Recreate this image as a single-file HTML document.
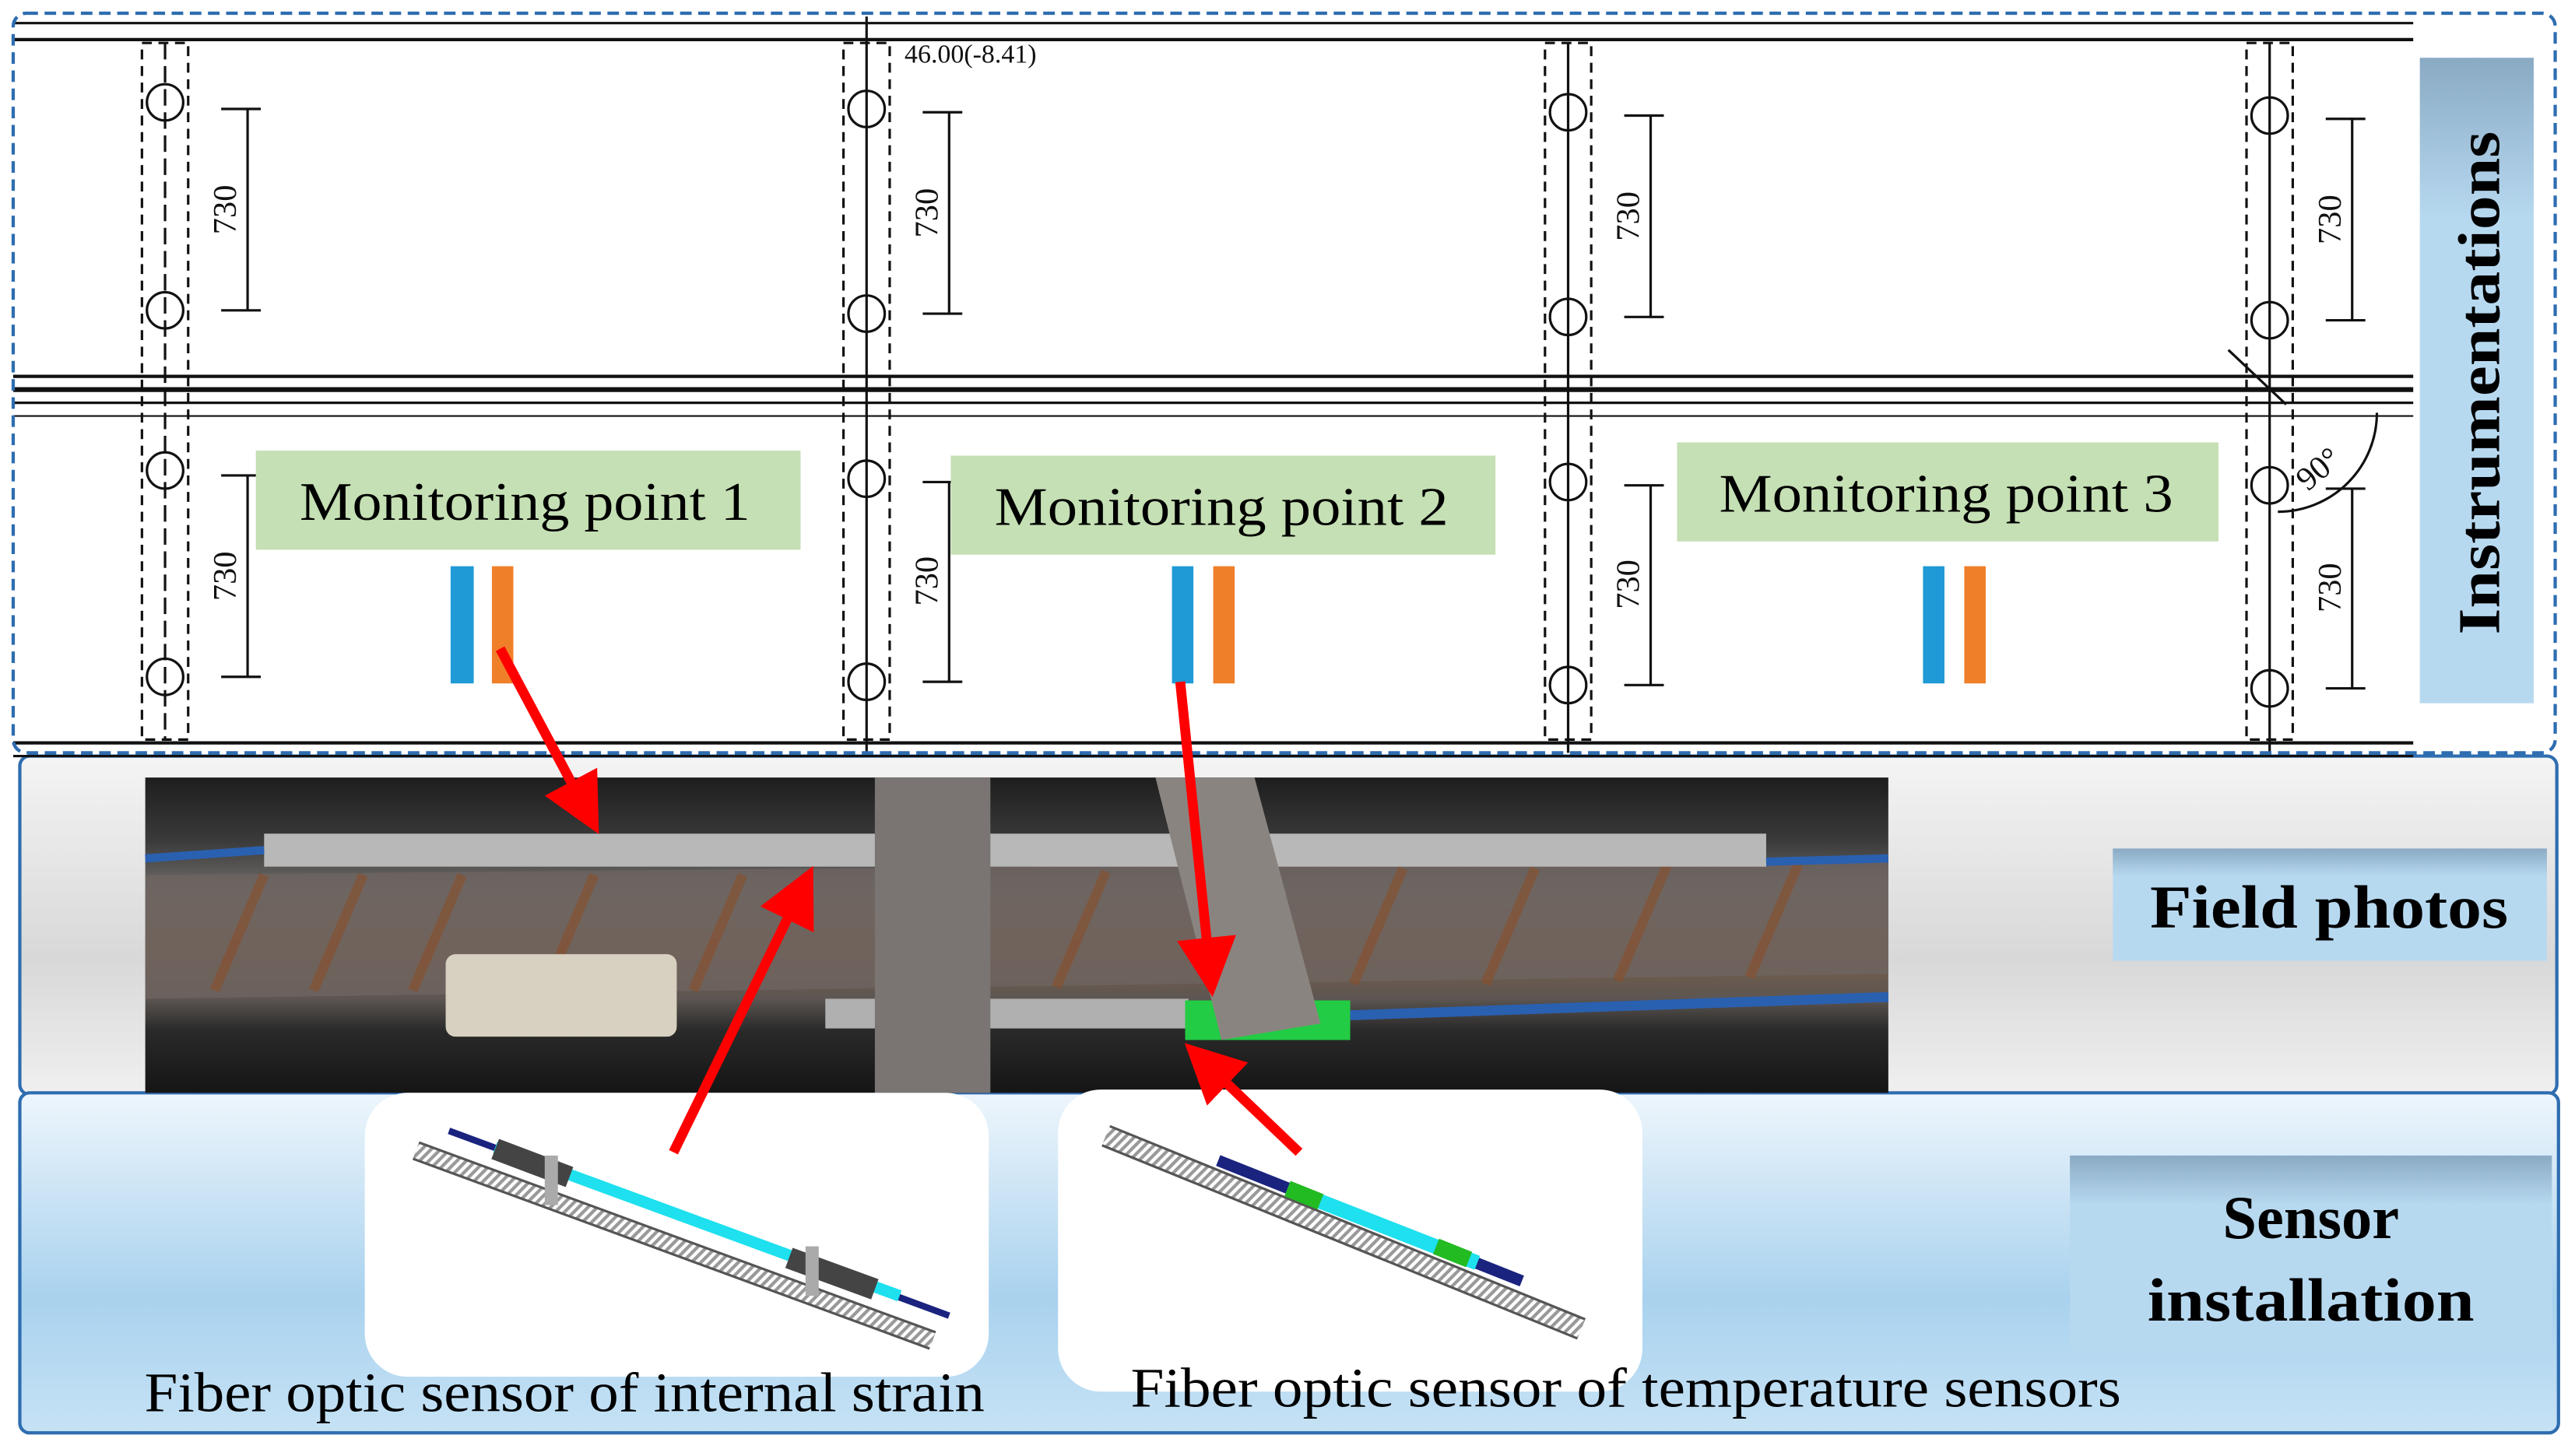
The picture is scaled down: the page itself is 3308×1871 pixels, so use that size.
<!DOCTYPE html>
<html><head><meta charset="utf-8"><style>html,body{margin:0;padding:0;background:#fff}svg{display:block}</style></head><body>
<svg width="3308" height="1871" viewBox="0 0 1560 882" preserveAspectRatio="none" xmlns="http://www.w3.org/2000/svg" font-family="Liberation Serif, serif">
<defs>
<linearGradient id="fp" x1="0" y1="0" x2="0" y2="1"><stop offset="0" stop-color="#f4f4f4"/><stop offset="0.6" stop-color="#d8d8d8"/><stop offset="1" stop-color="#f0f0f0"/></linearGradient>
<linearGradient id="si" x1="0" y1="0" x2="0" y2="1"><stop offset="0" stop-color="#eef6fc"/><stop offset="0.6" stop-color="#a9d2ee"/><stop offset="1" stop-color="#c6e2f5"/></linearGradient>
<linearGradient id="lb" x1="0" y1="0" x2="0" y2="1"><stop offset="0" stop-color="#8aaac4"/><stop offset="0.25" stop-color="#b7d9f0"/><stop offset="1" stop-color="#b7d9f0"/></linearGradient>
<linearGradient id="photo" x1="0" y1="0" x2="0" y2="1"><stop offset="0" stop-color="#1e1e1e"/><stop offset="0.2" stop-color="#3a3a3a"/><stop offset="0.35" stop-color="#6c6a68"/><stop offset="0.55" stop-color="#7b5f48"/><stop offset="0.7" stop-color="#5d5652"/><stop offset="0.8" stop-color="#2a2a2a"/><stop offset="1" stop-color="#151515"/></linearGradient>
<pattern id="hatch" width="4" height="4" patternUnits="userSpaceOnUse" patternTransform="rotate(45)"><rect width="4" height="4" fill="#fff"/><rect width="2" height="4" fill="#999"/></pattern>
<marker id="ah" markerWidth="6" markerHeight="6" refX="5" refY="3" orient="auto" markerUnits="strokeWidth"><path d="M0,0 L6,3 L0,6 z" fill="#ff0000"/></marker>
</defs>
<rect x="12" y="458" width="1537" height="205" rx="6" fill="url(#fp)" stroke="#2e6db0" stroke-width="2"/>
<rect x="12" y="662" width="1538" height="206" rx="6" fill="url(#si)" stroke="#2e6db0" stroke-width="2"/>
<rect x="8" y="8" width="1540" height="448" fill="#fff"/>
<g stroke="#111" fill="none">
<line x1="8" y1="14" x2="1462" y2="14" stroke-width="1.5"/>
<line x1="8" y1="24" x2="1462" y2="24" stroke-width="2"/>
<line x1="8" y1="228" x2="1462" y2="228" stroke-width="2"/>
<line x1="8" y1="236" x2="1462" y2="236" stroke-width="3"/>
<line x1="8" y1="244" x2="1462" y2="244" stroke-width="1.5"/>
<line x1="8" y1="252" x2="1462" y2="252" stroke-width="1"/>
<line x1="8" y1="450" x2="1462" y2="450" stroke-width="2"/>
<line x1="8" y1="458" x2="1462" y2="458" stroke-width="1.5"/>
</g>
<g stroke="#111" fill="none" stroke-width="1.5">
<g transform="translate(100,0)"><rect x="-14" y="26" width="28" height="422" stroke-dasharray="6,4"/><line x1="0" y1="26" x2="0" y2="448" stroke-dasharray="10,4"/><circle cx="0" cy="62" r="11"/><circle cx="0" cy="188" r="11"/><circle cx="0" cy="285" r="11"/><circle cx="0" cy="410" r="11"/><line x1="34" y1="66" x2="58" y2="66"/><line x1="34" y1="188" x2="58" y2="188"/><line x1="50" y1="66" x2="50" y2="188"/><line x1="34" y1="288" x2="58" y2="288"/><line x1="34" y1="410" x2="58" y2="410"/><line x1="50" y1="288" x2="50" y2="410"/></g>
<g transform="translate(525,0)"><rect x="-14" y="26" width="28" height="422" stroke-dasharray="6,4"/><line x1="0" y1="10" x2="0" y2="456"/><circle cx="0" cy="66" r="11"/><circle cx="0" cy="190" r="11"/><circle cx="0" cy="290" r="11"/><circle cx="0" cy="413" r="11"/><line x1="34" y1="68" x2="58" y2="68"/><line x1="34" y1="190" x2="58" y2="190"/><line x1="50" y1="68" x2="50" y2="190"/><line x1="34" y1="292" x2="58" y2="292"/><line x1="34" y1="413" x2="58" y2="413"/><line x1="50" y1="292" x2="50" y2="413"/></g>
<g transform="translate(950,0)"><rect x="-14" y="26" width="28" height="422" stroke-dasharray="6,4"/><line x1="0" y1="26" x2="0" y2="456"/><circle cx="0" cy="68" r="11"/><circle cx="0" cy="192" r="11"/><circle cx="0" cy="292" r="11"/><circle cx="0" cy="415" r="11"/><line x1="34" y1="70" x2="58" y2="70"/><line x1="34" y1="192" x2="58" y2="192"/><line x1="50" y1="70" x2="50" y2="192"/><line x1="34" y1="294" x2="58" y2="294"/><line x1="34" y1="415" x2="58" y2="415"/><line x1="50" y1="294" x2="50" y2="415"/></g>
<g transform="translate(1375,0)"><rect x="-14" y="26" width="28" height="422" stroke-dasharray="6,4"/><line x1="0" y1="26" x2="0" y2="456"/><circle cx="0" cy="70" r="11"/><circle cx="0" cy="194" r="11"/><circle cx="0" cy="294" r="11"/><circle cx="0" cy="417" r="11"/><line x1="34" y1="72" x2="58" y2="72"/><line x1="34" y1="194" x2="58" y2="194"/><line x1="50" y1="72" x2="50" y2="194"/><line x1="34" y1="296" x2="58" y2="296"/><line x1="34" y1="417" x2="58" y2="417"/><line x1="50" y1="296" x2="50" y2="417"/><path d="M5,310 A60,60 0 0 0 65,250"/><line x1="-25" y1="212" x2="10" y2="245"/></g>
</g>
<g font-size="20" fill="#111">
<text transform="translate(143,127) rotate(-90)" text-anchor="middle">730</text>
<text transform="translate(143,349) rotate(-90)" text-anchor="middle">730</text>
<text transform="translate(568,129) rotate(-90)" text-anchor="middle">730</text>
<text transform="translate(568,352) rotate(-90)" text-anchor="middle">730</text>
<text transform="translate(993,131) rotate(-90)" text-anchor="middle">730</text>
<text transform="translate(993,354) rotate(-90)" text-anchor="middle">730</text>
<text transform="translate(1418,133) rotate(-90)" text-anchor="middle">730</text>
<text transform="translate(1418,356) rotate(-90)" text-anchor="middle">730</text>
<text transform="translate(1398,298) rotate(-40)">90°</text>
<text x="548" y="38" font-size="16">46.00(-8.41)</text>
</g>
<rect x="8" y="8" width="1540" height="448" rx="8" fill="none" stroke="#2e6db0" stroke-width="2" stroke-dasharray="7,4"/>
<rect x="1466" y="35" width="69" height="391" fill="url(#lb)"/>
<text transform="translate(1514,232) rotate(-90)" text-anchor="middle" font-size="36" font-weight="bold" fill="#000" textLength="305" lengthAdjust="spacingAndGlyphs">Instrumentations</text>
<rect x="155" y="273" width="330" height="60" fill="#c5e0b4"/>
<text x="318" y="315" text-anchor="middle" font-size="33" textLength="273" lengthAdjust="spacingAndGlyphs">Monitoring point 1</text>
<rect x="576" y="276" width="330" height="60" fill="#c5e0b4"/>
<text x="740" y="318" text-anchor="middle" font-size="33" textLength="275" lengthAdjust="spacingAndGlyphs">Monitoring point 2</text>
<rect x="1016" y="268" width="328" height="60" fill="#c5e0b4"/>
<text x="1179" y="310" text-anchor="middle" font-size="33" textLength="275" lengthAdjust="spacingAndGlyphs">Monitoring point 3</text>
<rect x="273" y="343" width="14" height="71" fill="#1f9ad6"/><rect x="298" y="343" width="13" height="71" fill="#f07f2a"/>
<rect x="710" y="343" width="13" height="71" fill="#1f9ad6"/><rect x="735" y="343" width="13" height="71" fill="#f07f2a"/>
<rect x="1165" y="343" width="13" height="71" fill="#1f9ad6"/><rect x="1190" y="343" width="13" height="71" fill="#f07f2a"/>
<rect x="88" y="471" width="1056" height="191" fill="url(#photo)"/>
<path d="M88,530 L1144,520 L1144,590 L88,605 z" fill="#6e6460" opacity="0.8"/>
<g stroke="#8a4f2a" stroke-width="6" opacity="0.6">
<line x1="130" y1="600" x2="160" y2="530"/><line x1="190" y1="600" x2="220" y2="530"/><line x1="250" y1="600" x2="280" y2="530"/><line x1="330" y1="600" x2="360" y2="530"/><line x1="420" y1="600" x2="450" y2="530"/><line x1="640" y1="598" x2="670" y2="528"/><line x1="820" y1="596" x2="850" y2="526"/><line x1="900" y1="596" x2="930" y2="526"/><line x1="980" y1="594" x2="1010" y2="524"/><line x1="1060" y1="592" x2="1090" y2="522"/>
</g>
<rect x="160" y="505" width="910" height="20" fill="#b8b8b8"/>
<path d="M88,520 L160,515 M1070,522 L1144,520" stroke="#2a60b0" stroke-width="5"/>
<rect x="500" y="605" width="220" height="18" fill="#b0b0b0"/>
<rect x="718" y="606" width="100" height="24" fill="#22cc44"/>
<path d="M818,615 L1144,604" stroke="#2a60b0" stroke-width="6"/>
<rect x="530" y="471" width="70" height="191" fill="#7a7472"/>
<path d="M700,471 L760,471 L800,620 L740,630 z" fill="#8a8480"/>
<rect x="270" y="578" width="140" height="50" rx="6" fill="#d8d0c0"/>
<rect x="221" y="662" width="378" height="172" rx="26" fill="#fff"/>
<rect x="641" y="660" width="354" height="183" rx="26" fill="#fff"/>
<line x1="252" y1="697" x2="565" y2="812" stroke="#555" stroke-width="12"/>
<line x1="252" y1="697" x2="565" y2="812" stroke="url(#hatch)" stroke-width="9"/>
<line x1="272" y1="685" x2="575" y2="797" stroke="#1a237e" stroke-width="4"/>
<line x1="300" y1="695" x2="545" y2="785" stroke="#1ee0ee" stroke-width="7"/>
<line x1="300" y1="696" x2="345" y2="713" stroke="#444" stroke-width="13"/>
<line x1="478" y1="762" x2="530" y2="781" stroke="#444" stroke-width="13"/>
<rect x="330" y="700" width="8" height="30" fill="#aaa"/><rect x="488" y="755" width="8" height="30" fill="#aaa"/>
<line x1="670" y1="688" x2="958" y2="805" stroke="#555" stroke-width="14"/>
<line x1="670" y1="688" x2="958" y2="805" stroke="url(#hatch)" stroke-width="11"/>
<line x1="738" y1="703" x2="922" y2="776" stroke="#1a237e" stroke-width="7"/>
<line x1="780" y1="720" x2="895" y2="765" stroke="#1ee0ee" stroke-width="9"/>
<line x1="780" y1="720" x2="800" y2="728" stroke="#22bb22" stroke-width="10"/>
<line x1="870" y1="755" x2="890" y2="763" stroke="#22bb22" stroke-width="10"/>
<rect x="1280" y="514" width="263" height="68" fill="url(#lb)"/>
<text x="1411" y="562" text-anchor="middle" font-size="37" font-weight="bold" textLength="217" lengthAdjust="spacingAndGlyphs">Field photos</text>
<rect x="1254" y="700" width="292" height="120" fill="url(#lb)"/>
<text x="1400" y="750" text-anchor="middle" font-size="37" font-weight="bold">Sensor</text>
<text x="1400" y="800" text-anchor="middle" font-size="37" font-weight="bold" textLength="198" lengthAdjust="spacingAndGlyphs">installation</text>
<text x="342" y="855" text-anchor="middle" font-size="34" textLength="509" lengthAdjust="spacingAndGlyphs">Fiber optic sensor of internal strain</text>
<text x="985" y="852" text-anchor="middle" font-size="34" textLength="600" lengthAdjust="spacingAndGlyphs">Fiber optic sensor of temperature sensors</text>
<g stroke="#ff0000" stroke-width="6" fill="none" marker-end="url(#ah)">
<line x1="303" y1="393" x2="360" y2="500"/>
<line x1="408" y1="698" x2="490" y2="530"/>
<line x1="715" y1="413" x2="734" y2="598"/>
<line x1="787" y1="698" x2="722" y2="636"/>
</g>
</svg>
</body></html>
